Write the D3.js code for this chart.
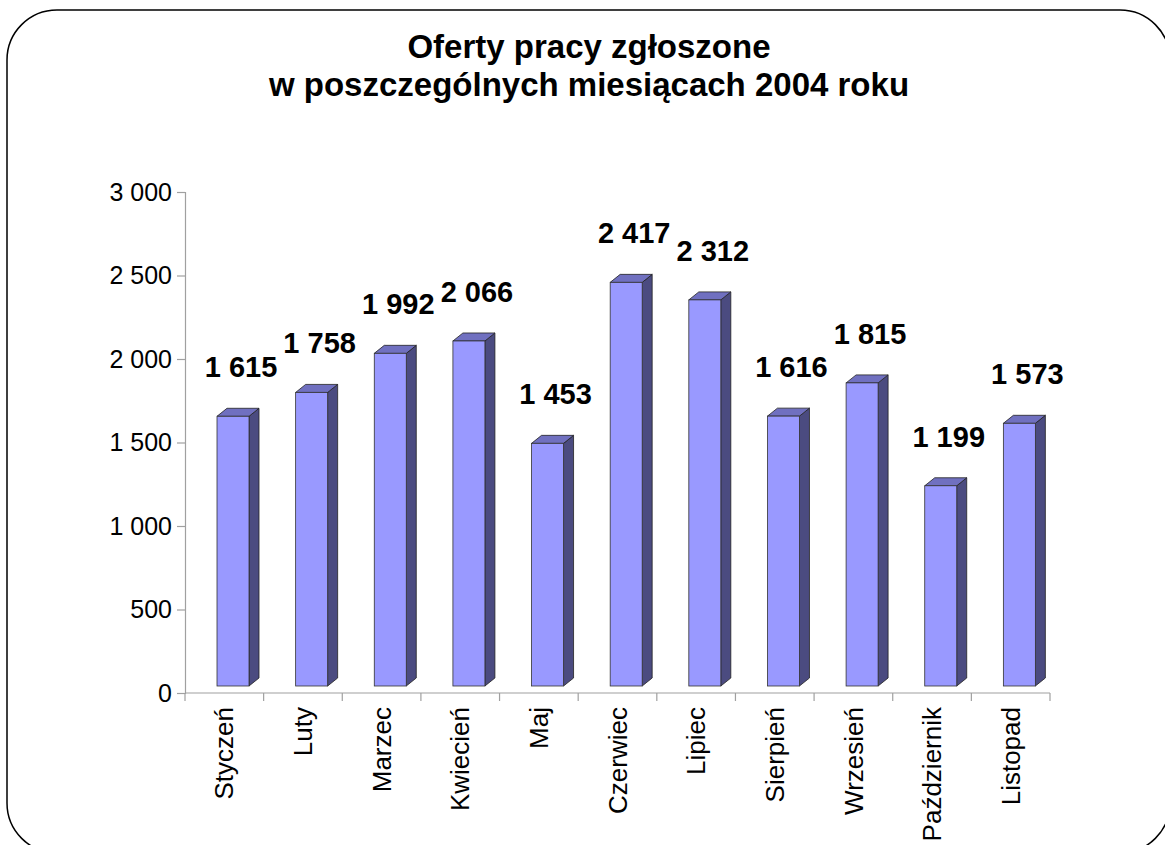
<!DOCTYPE html>
<html>
<head>
<meta charset="utf-8">
<script src="https://cdn.jsdelivr.net/npm/d3@7"></script>
<style>
  body { margin: 0; background: #fff; }
  text { font-family: "Liberation Sans", Arial, sans-serif; }
</style>
</head>
<body>
<script>
// data
const months = ["Styczeń", "Luty", "Marzec", "Kwiecień", "Maj", "Czerwiec",
                "Lipiec", "Sierpień", "Wrzesień", "Październik", "Listopad"];
const offers = [1615, 1758, 1992, 2066, 1453, 2417, 2312, 1616, 1815, 1199, 1573];
const yTicks = [0, 500, 1000, 1500, 2000, 2500, 3000];
const titleLines = ["Oferty pracy zgłoszone", "w poszczególnych miesiącach 2004 roku"];

const width = 1165, height = 845;
const margin = { top: 192, right: 115, bottom: 152, left: 185 };
const depthX = 10, depthY = 8, lift = 7;

const fmt = v => d3.format(",")(v).replace(/,/g, " ");

var svg = d3.select("body").append("svg")
   .attr("width", width)
   .attr("height", height);

// rounded frame
svg.append("rect")
   .attr("x", 7).attr("y", 10)
   .attr("width", 1163).attr("height", 843)
   .attr("rx", 50).attr("ry", 50)
   .style("fill", "none")
   .style("stroke", "#000")
   .style("stroke-width", 1.5);

let title = svg.append("text")
   .attr("text-anchor", "middle")
   .style("font-size", "33px")
   .style("font-weight", "bold");
title.selectAll("tspan")
   .data(titleLines)
   .enter().append("tspan")
   .attr("x", 589)
   .attr("y", (d, i) => 58 + i * 38)
   .text(d => d);

let x = d3.scaleBand()
   .domain(months)
   .range([margin.left, width - margin.right])
   .paddingInner(0).paddingOuter(0);

let y = d3.scaleLinear()
   .domain([0, 3000])
   .range([height - margin.bottom, margin.top]);

// y axis
let yAxis = d3.axisLeft(y)
   .tickValues(yTicks)
   .tickSize(8)
   .tickPadding(5)
   .tickFormat(fmt);

let gy = svg.append("g")
   .attr("transform", `translate(${margin.left},0)`)
   .call(yAxis);
gy.select(".domain").style("stroke", "#a0a0a0").style("stroke-width", 1.2);
gy.selectAll(".tick line").style("stroke", "#a0a0a0").style("stroke-width", 1.2);
gy.selectAll(".tick text")
   .style("font-size", "25px")
   .style("font-family", "'Liberation Sans', Arial, sans-serif")
   .style("fill", "#000");

// x axis: ticks on category boundaries
let xBase = y(0);
svg.append("line")
   .attr("x1", x.range()[0]).attr("x2", x.range()[1])
   .attr("y1", xBase).attr("y2", xBase)
   .style("stroke", "#a0a0a0").style("stroke-width", 1.2);

let bounds = months.map(m => x(m)).concat([x.range()[1]]);
svg.selectAll("line.xtick")
   .data(bounds)
   .enter().append("line")
   .attr("class", "xtick")
   .attr("x1", d => d).attr("x2", d => d)
   .attr("y1", xBase).attr("y2", xBase + 8)
   .style("stroke", "#a0a0a0").style("stroke-width", 1.2);

svg.selectAll("text.xlabel")
   .data(months)
   .enter().append("text")
   .attr("class", "xlabel")
   .attr("transform", d => `translate(${x(d) + x.bandwidth() / 2},${xBase + 14}) rotate(-90)`)
   .attr("dy", "0.35em")
   .attr("text-anchor", "end")
   .style("font-size", "26px")
   .text(d => d);

// 3D bars
const data = months.map((m, i) => ({ month: m, value: offers[i] }));
const barW = 32;
const barX = d => x(d.month) + x.bandwidth() * 0.407;

let bars = svg.selectAll("g.bar")
   .data(data)
   .enter().append("g")
   .attr("class", "bar");

// side
bars.append("path")
   .attr("d", d => {
      let x1 = barX(d) + barW, top = y(d.value) - lift, bot = y(0) - lift;
      return `M${x1},${bot} L${x1 + depthX},${bot - depthY} L${x1 + depthX},${top - depthY} L${x1},${top} Z`;
   })
   .style("fill", "#4b4b80")
   .style("stroke", "#222").style("stroke-width", 0.8);

// top
bars.append("path")
   .attr("d", d => {
      let x0 = barX(d), top = y(d.value) - lift;
      return `M${x0},${top} L${x0 + depthX},${top - depthY} L${x0 + barW + depthX},${top - depthY} L${x0 + barW},${top} Z`;
   })
   .style("fill", "#7070c0")
   .style("stroke", "#222").style("stroke-width", 0.8);

// front
bars.append("rect")
   .attr("x", d => barX(d))
   .attr("y", d => y(d.value) - lift)
   .attr("width", barW)
   .attr("height", d => y(0) - y(d.value))
   .style("fill", "#9999ff")
   .style("stroke", "#333").style("stroke-width", 0.8);

// value labels
svg.selectAll("text.value")
   .data(data)
   .enter().append("text")
   .attr("class", "value")
   .attr("x", d => barX(d) + (barW + depthX) / 2 + 3)
   .attr("y", d => y(d.value) - 46)
   .attr("text-anchor", "middle")
   .style("font-size", "29px")
   .style("font-weight", "bold")
   .text(d => fmt(d.value));
</script>
</body>
</html>
